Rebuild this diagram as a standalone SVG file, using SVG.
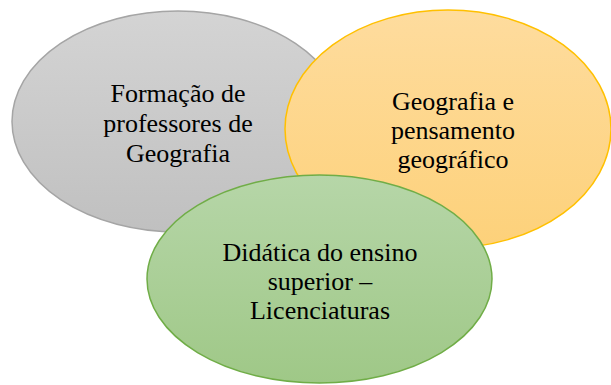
<svg xmlns="http://www.w3.org/2000/svg" width="611" height="385" viewBox="0 0 611 385">
  <defs>
    <linearGradient id="gGray" x1="0" y1="0" x2="0" y2="1">
      <stop offset="0" stop-color="#d4d4d4"/>
      <stop offset="1" stop-color="#c0c0c0"/>
    </linearGradient>
    <linearGradient id="gOrange" x1="0" y1="0" x2="0" y2="1">
      <stop offset="0" stop-color="#fedc9e"/>
      <stop offset="1" stop-color="#fdd17a"/>
    </linearGradient>
    <linearGradient id="gGreen" x1="0" y1="0" x2="0" y2="1">
      <stop offset="0" stop-color="#b6d6a8"/>
      <stop offset="1" stop-color="#9fc887"/>
    </linearGradient>
  </defs>
  <style>
    .lbl { font-size: 26px; fill: #000; text-anchor: middle; }
    .shape { stroke-width: 1.5; }
  </style>
  <rect width="611" height="385" fill="#ffffff"/>
  <g id="connectors"/>
  <g id="node-formacao" font-family="Liberation Serif, serif">
    <ellipse class="shape" cx="178" cy="121.5" rx="166" ry="110.5" fill="url(#gGray)" stroke="#a5a5a5"/>
    <text class="lbl" x="178" y="102">Formação de</text>
    <text class="lbl" x="178" y="132">professores de</text>
    <text class="lbl" x="178" y="162">Geografia</text>
  </g>
  <g id="node-geografia" font-family="Liberation Serif, serif">
    <ellipse class="shape" cx="448" cy="129" rx="163" ry="119" fill="url(#gOrange)" stroke="#ffc000"/>
    <text class="lbl" x="453" y="110">Geografia e</text>
    <text class="lbl" x="453" y="139">pensamento</text>
    <text class="lbl" x="453" y="168">geográfico</text>
  </g>
  <g id="node-didatica" font-family="Liberation Serif, serif">
    <ellipse class="shape" cx="319.5" cy="279" rx="172.5" ry="104" fill="url(#gGreen)" stroke="#70ad47"/>
    <text class="lbl" x="320" y="261">Didática do ensino</text>
    <text class="lbl" x="320" y="290">superior –</text>
    <text class="lbl" x="320" y="319">Licenciaturas</text>
  </g>
</svg>
